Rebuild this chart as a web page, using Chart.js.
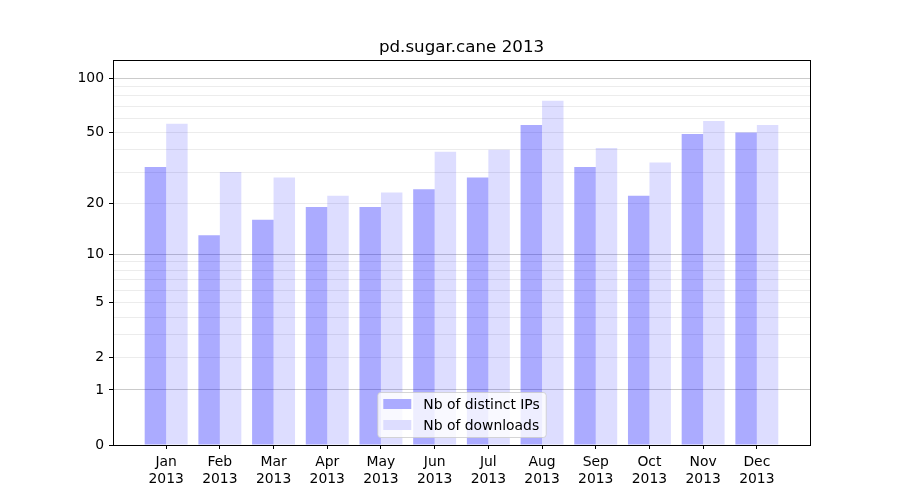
<!DOCTYPE html>
<html>
<head>
<meta charset="utf-8">
<script src="https://cdn.jsdelivr.net/npm/chart.js@4.4.1/dist/chart.umd.min.js"></script>
<style>
  html, body { margin: 0; padding: 0; background: #fff; }
  #wrap { width: 900px; height: 500px; }
</style>
</head>
<body>
<div id="wrap"><canvas id="pd-chart" width="900" height="500"></canvas></div>
<script>
// values
const months = ['Jan', 'Feb', 'Mar', 'Apr', 'May', 'Jun', 'Jul', 'Aug', 'Sep', 'Oct', 'Nov', 'Dec'];
const year = '2013';
const distinctIps = [32, 13, 16, 19, 19, 24, 28, 55, 32, 22, 49, 50];
const downloads = [56, 30, 28, 22, 23, 39, 40, 75, 41, 34, 58, 55];
const chartTitle = 'pd.sugar.cane 2013';

// y axis ticks (symlog-like: log10(1 + v))
const yLabelTicks = [0, 1, 2, 5, 10, 20, 50, 100];
const yMajorTicks = [1, 10, 100];
const yMinorTicks = [2, 3, 4, 5, 6, 7, 8, 9, 20, 30, 40, 50, 60, 70, 80, 90];
const yTopValue = 126;

function fwd(v) { return Math.log10(1 + v); }
function back(t) { return Math.round(Math.pow(10, t) - 1); }

function toPoints(arr) {
    let pts = [];
    arr.forEach(function (v, i) {
        pts.push({ x: i, y: fwd(v) });
    });
    return pts;
}

Chart.defaults.font.family = "'DejaVu Sans', sans-serif";
Chart.defaults.font.size = 13.9;
Chart.defaults.color = '#000';

// title, black frame on all four sides, legend inside the plot
const framePlugin = {
    id: 'frameAndLegend',
    afterDraw(chart) {
        const ctx = chart.ctx;
        const a = chart.chartArea;
        ctx.save();
        ctx.strokeStyle = '#000';
        ctx.lineWidth = 1;
        ctx.strokeRect(Math.round(a.left) + 0.5, Math.round(a.top) + 0.5,
            Math.round(a.right - a.left), Math.round(a.bottom - a.top));

        ctx.fillStyle = '#000';
        ctx.font = "16.7px 'DejaVu Sans', sans-serif";
        ctx.textAlign = 'center';
        ctx.textBaseline = 'alphabetic';
        ctx.fillText(chartTitle, (a.left + a.right) / 2, a.top - 8.3);

        // legend, lower center
        const sets = chart.data.datasets;
        ctx.font = "13.9px 'DejaVu Sans', sans-serif";
        let textW = 0;
        sets.forEach(function (ds) {
            textW = Math.max(textW, ctx.measureText(ds.label).width);
        });
        const boxW = 6 + 28 + 12 + textW + 6;
        const boxH = 45;
        const bx = (a.left + a.right) / 2 - boxW / 2;
        const by = a.bottom - 8 - boxH;

        ctx.beginPath();
        ctx.roundRect(bx + 0.5, by + 0.5, boxW, boxH, 3);
        ctx.fillStyle = 'rgba(255,255,255,0.8)';
        ctx.fill();
        ctx.strokeStyle = 'rgba(204,204,204,0.8)';
        ctx.stroke();

        sets.forEach(function (ds, i) {
            const cy = by + 12 + i * 21;
            ctx.fillStyle = '#fff';
            ctx.fillRect(bx + 6, cy - 5, 28, 10);
            ctx.fillStyle = ds.backgroundColor;
            ctx.fillRect(bx + 6, cy - 5, 28, 10);
            ctx.fillStyle = '#000';
            ctx.textBaseline = 'middle';
            ctx.textAlign = 'left';
            ctx.fillText(ds.label, bx + 6 + 28 + 12, cy + 1);
        });
        ctx.restore();
    }
};

let canvas = document.getElementById('pd-chart');
let myChart = new Chart(canvas.getContext('2d'), {
    type: 'bar',
    data: {
        datasets: [{
            label: 'Nb of distinct IPs',
            data: toPoints(distinctIps),
            backgroundColor: 'rgba(0,0,255,0.33)',
            borderWidth: 0
        }, {
            label: 'Nb of downloads',
            data: toPoints(downloads),
            backgroundColor: 'rgba(0,0,255,0.133)',
            borderWidth: 0
        }]
    },
    options: {
        responsive: false,
        animation: false,
        devicePixelRatio: 1,
        categoryPercentage: 0.8,
        barPercentage: 1.0,
        layout: { padding: { left: 0, right: 90, top: 60, bottom: 0 } },
        plugins: {
            legend: { display: false },
            tooltip: { enabled: false },
            title: { display: false }
        },
        scales: {
            x: {
                type: 'linear',
                min: -0.99,
                max: 11.99,
                bounds: 'data',
                offset: false,
                afterBuildTicks: function (scale) {
                    scale.ticks = months.map(function (m, i) { return { value: i }; });
                },
                afterFit: function (scale) { scale.height = 55; },
                grid: {
                    offset: false,
                    drawOnChartArea: false,
                    drawTicks: true,
                    tickLength: 4,
                    tickColor: '#000'
                },
                border: { display: true, color: '#000' },
                ticks: {
                    autoSkip: false,
                    maxRotation: 0,
                    padding: 5,
                    callback: function (v) { return [months[v], year]; }
                }
            },
            y: {
                type: 'linear',
                min: 0,
                max: fwd(yTopValue),
                bounds: 'data',
                afterBuildTicks: function (scale) {
                    let vals = [0].concat(yMajorTicks, yMinorTicks);
                    vals.sort(function (a, b) { return a - b; });
                    scale.ticks = vals.map(function (v) { return { value: fwd(v) }; });
                },
                afterFit: function (scale) { scale.width = 113; },
                grid: {
                    drawTicks: true,
                    tickLength: 4,
                    color: function (c) {
                        if (!c.tick) return 'rgba(0,0,0,0)';
                        let v = back(c.tick.value);
                        if (v === 0) return 'rgba(0,0,0,0)';
                        return yMajorTicks.indexOf(v) >= 0 ? '#cbcbcb' : '#ececec';
                    },
                    tickColor: function (c) {
                        if (!c.tick) return 'rgba(0,0,0,0)';
                        return yLabelTicks.indexOf(back(c.tick.value)) >= 0 ? '#000' : 'rgba(0,0,0,0)';
                    }
                },
                border: { display: true, color: '#000' },
                ticks: {
                    autoSkip: false,
                    padding: 5,
                    callback: function (t) {
                        let v = back(t);
                        return yLabelTicks.indexOf(v) >= 0 ? String(v) : '';
                    }
                }
            }
        }
    },
    plugins: [framePlugin]
});
</script>
</body>
</html>
